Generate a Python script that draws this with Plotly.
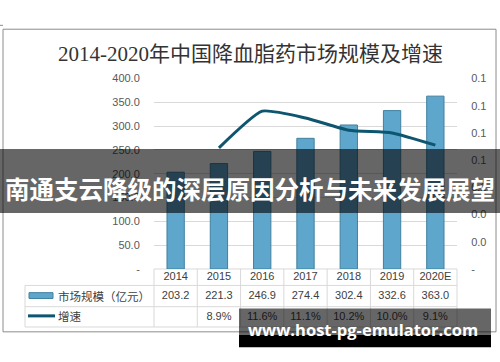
import plotly.graph_objects as go

# ---------------- data ----------------
years = ["2014", "2015", "2016", "2017", "2018", "2019", "2020E"]
market_size = [203.2, 221.3, 246.9, 274.4, 302.4, 332.6, 363.0]
growth = [None, 0.089, 0.116, 0.111, 0.102, 0.100, 0.091]
left_ticks = [0, 50, 100, 150, 200, 250, 300, 350, 400]
left_ticktext = ["-", "50.0", "100.0", "150.0", "200.0", "250.0", "300.0", "350.0", "400.0"]
right_ticks = [0, 0.02, 0.04, 0.06, 0.08, 0.10, 0.12, 0.14]
right_ticktext = ["-", "0.0", "0.0", "0.1", "0.1", "0.1", "0.1", "0.1"]
size_text = ["203.2", "221.3", "246.9", "274.4", "302.4", "332.6", "363.0"]
growth_text = ["", "8.9%", "11.6%", "11.1%", "10.2%", "10.0%", "9.1%"]
title_text = "2014-2020年中国降血脂药市场规模及增速"
series_names = ["市场规模（亿元）", "增速"]
banner_text = "南通支云降级的深层原因分析与未来发展展望"
watermark_text = "www.host-pg-emulator.com"

W, H = 500, 362
def px(x):
    return x / W
def py(y):
    return 1 - y / H

BAR = "#5fa6cc"
BAR_EDGE = "#41809f"
LINE = "#0e5570"
GRID = "#d9d9d9"
TXT = "#404040"
NUMFONT = "Liberation Sans, Noto Sans CJK SC"
CJK = "Noto Sans CJK SC"

plot_l, plot_r = 154, 457
plot_t, plot_b = 75, 272
table_b = 332

fig = go.Figure()

fig.add_trace(go.Bar(
    x=years, y=market_size, width=0.4, name=series_names[0],
    marker=dict(color=BAR, line=dict(color=BAR_EDGE, width=1)),
    yaxis="y", xaxis="x", showlegend=False, hoverinfo="skip"))

fig.add_trace(go.Scatter(
    x=years, y=growth, mode="lines", name=series_names[1],
    line=dict(color=LINE, width=3, shape="spline", smoothing=0.5),
    yaxis="y2", xaxis="x", showlegend=False, connectgaps=False, hoverinfo="skip"))

# table text rows (as traces so overlays can cover them)
row_y = [8.5, 28, 49.5]
for txts, ry in zip([years, size_text, growth_text], row_y):
    fig.add_trace(go.Scatter(
        x=years, y=[ry] * len(years), mode="text", text=txts,
        textfont=dict(family=NUMFONT, size=11, color=TXT),
        textposition="middle center", xaxis="x", yaxis="y3",
        cliponaxis=False, showlegend=False, hoverinfo="skip"))

shapes = []
# outer frame
shapes.append(dict(type="rect", xref="paper", yref="paper",
                   x0=px(3), x1=px(496), y0=py(337), y1=py(24),
                   line=dict(color="#8c8c8c", width=1), layer="below"))
shapes.append(dict(type="line", xref="paper", yref="paper",
                   x0=px(0), x1=px(3), y0=py(20), y1=py(20),
                   line=dict(color="#8c8c8c", width=1), layer="below"))
# table grid
col_w = (plot_r - plot_l) / len(years)
shapes.append(dict(type="line", xref="paper", yref="paper", x0=px(plot_l), x1=px(plot_r),
                   y0=py(272), y1=py(272), line=dict(color=GRID, width=1), layer="below"))
for yy in [289, 311, 332]:
    shapes.append(dict(type="line", xref="paper", yref="paper", x0=px(25), x1=px(plot_r),
                       y0=py(yy), y1=py(yy), line=dict(color=GRID, width=1), layer="below"))
shapes.append(dict(type="line", xref="paper", yref="paper", x0=px(25), x1=px(25),
                   y0=py(289), y1=py(332), line=dict(color=GRID, width=1), layer="below"))
for k in range(len(years) + 1):
    xx = plot_l + k * col_w
    shapes.append(dict(type="line", xref="paper", yref="paper", x0=px(xx), x1=px(xx),
                       y0=py(272), y1=py(332), line=dict(color=GRID, width=1), layer="below"))
# legend swatches
shapes.append(dict(type="rect", xref="paper", yref="paper", x0=px(29), x1=px(53),
                   y0=py(302.5), y1=py(296.5), fillcolor=BAR,
                   line=dict(color=BAR_EDGE, width=1), layer="below"))
shapes.append(dict(type="line", xref="paper", yref="paper", x0=px(28), x1=px(55),
                   y0=py(320.5), y1=py(320.5), line=dict(color=LINE, width=3), layer="below"))
# banner overlay
shapes.append(dict(type="rect", xref="paper", yref="paper", x0=0, x1=1,
                   y0=py(214), y1=py(148), fillcolor="rgba(0,0,0,0.6)",
                   line=dict(width=0), layer="above"))
# watermark overlay
shapes.append(dict(type="rect", xref="paper", yref="paper", x0=px(239), x1=px(491),
                   y0=py(340), y1=py(313), fillcolor="rgba(0,0,0,0.6)",
                   line=dict(width=0), layer="above"))
shapes.append(dict(type="rect", xref="paper", yref="paper", x0=px(239), x1=px(491),
                   y0=py(353), y1=py(340), fillcolor="#000000",
                   line=dict(width=0), layer="above"))

annotations = [
    dict(text=title_text, xref="paper", yref="paper", x=0.5, y=py(50),
         xanchor="center", yanchor="middle", showarrow=False,
         font=dict(family="Liberation Serif, Noto Sans CJK SC", size=21, color="#333333")),
    dict(text=series_names[0], xref="paper", yref="paper", x=px(56), y=py(299.5),
         xanchor="left", yanchor="middle", showarrow=False,
         font=dict(family=CJK, size=11.5, color=TXT)),
    dict(text=series_names[1], xref="paper", yref="paper", x=px(56), y=py(321),
         xanchor="left", yanchor="middle", showarrow=False,
         font=dict(family=CJK, size=11.5, color=TXT)),
    dict(text="<b>" + banner_text + "</b>", xref="paper", yref="paper", x=0.5, y=py(189),
         xanchor="center", yanchor="middle", showarrow=False,
         font=dict(family=CJK, size=24.5, color="#ffffff")),
    dict(text="<b>" + watermark_text + "</b>", xref="paper", yref="paper", x=px(363), y=py(335),
         xanchor="center", yanchor="middle", showarrow=False,
         font=dict(family="Open Sans, DejaVu Sans", size=16.5, color="#ffffff")),
]

fig.update_layout(
    width=W, height=H,
    margin=dict(l=0, r=0, t=0, b=0),
    paper_bgcolor="white", plot_bgcolor="white",
    showlegend=False,
    bargap=0.6,
    xaxis=dict(type="category", categoryorder="array", categoryarray=years,
               domain=[px(plot_l), px(plot_r)], range=[-0.5, len(years) - 0.5],
               showticklabels=False, showgrid=False, zeroline=False, showline=False,
               fixedrange=True),
    yaxis=dict(domain=[py(plot_b), py(plot_t)], range=[0, 400],
               tickvals=left_ticks, ticktext=left_ticktext,
               showgrid=True, gridcolor=GRID, gridwidth=1, zeroline=False, showline=False,
               ticks="outside", ticklen=11, tickcolor="rgba(0,0,0,0)",
               tickfont=dict(family=NUMFONT, size=11, color="#595959")),
    yaxis2=dict(overlaying="y", side="right", range=[0, 0.14],
                tickvals=right_ticks, ticktext=right_ticktext,
                showgrid=False, zeroline=False, showline=False,
                ticks="outside", ticklen=11, tickcolor="rgba(0,0,0,0)",
                tickfont=dict(family=NUMFONT, size=11, color="#595959")),
    yaxis3=dict(domain=[py(table_b), py(plot_b)], range=[60, 0], anchor="x",
                visible=False, showgrid=False, zeroline=False),
    shapes=shapes,
    annotations=annotations,
)

fig.write_html(
    "out.html",
    config={"displayModeBar": False, "staticPlot": True},
    post_script="document.body.style.margin='0';document.body.style.padding='0';document.body.style.overflow='hidden';",
)
